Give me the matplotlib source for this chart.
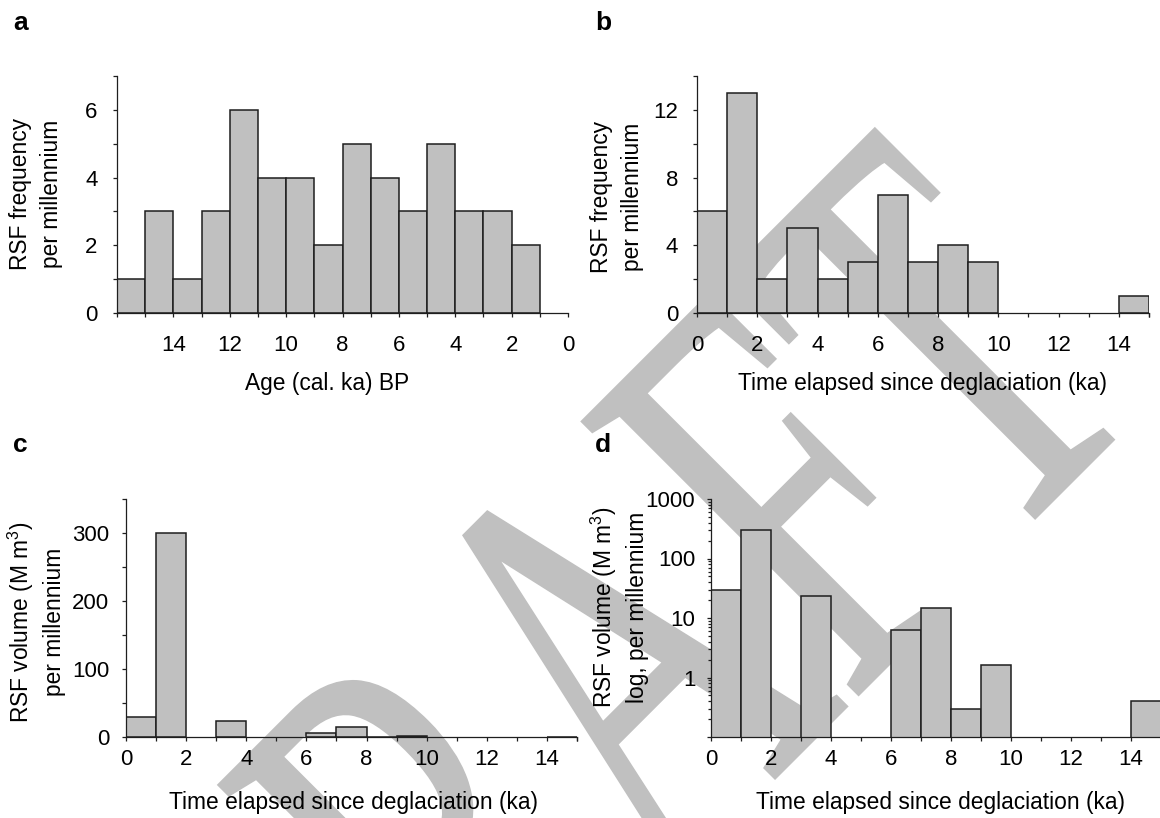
import numpy as np
import matplotlib
matplotlib.use("Agg")
import matplotlib.pyplot as plt
from matplotlib.textpath import TextPath
from matplotlib.font_manager import FontProperties
from matplotlib.patches import PathPatch
from matplotlib.transforms import Affine2D
from matplotlib.ticker import LogLocator, NullFormatter

plt.rcParams["font.family"] = "Liberation Sans"
plt.rcParams["mathtext.fontset"] = "custom"
plt.rcParams["mathtext.rm"] = "Liberation Sans"
plt.rcParams["mathtext.default"] = "rm"

# a: RSFs per 1 ka age bin, oldest first (bin 16-15 ka ... 2-1 ka)
age_bin_old = [16, 15, 14, 13, 12, 11, 10, 9, 8, 7, 6, 5, 4, 3, 2]
age_counts = [1, 3, 1, 3, 6, 4, 4, 2, 5, 4, 3, 5, 3, 3, 2]

# b-d: 1 ka bins of time elapsed since deglaciation (0-1 ... 14-15 ka)
t_bin_start = [0, 1, 2, 3, 4, 5, 6, 7, 8, 9, 10, 11, 12, 13, 14]
t_counts = [6, 13, 2, 5, 2, 3, 7, 3, 4, 3, 0, 0, 0, 0, 1]
t_volume = [30, 300, 0, 23, 0, 0, 6.4, 14.5, 0.3, 1.6, 0, 0, 0, 0, 0.4]

W, H = 1160, 818
fig = plt.figure(figsize=(W / 100, H / 100), dpi=100)

BAR = "#c0c0c0"
INK = "#1e1e1e"

# DRAFT watermark behind everything
tp = TextPath((0, 0), "DRAFT", size=1, prop=FontProperties(family="Liberation Serif"))
bb = tp.get_extents()
wm = (Affine2D().translate(-(bb.x0 + bb.x1) / 2, -(bb.y0 + bb.y1) / 2)
      .scale(370, 595).rotate_deg(45).translate(589, H - 688))
fig.add_artist(PathPatch(tp, transform=wm, facecolor=BAR, edgecolor=BAR,
                         linewidth=1.2, zorder=-5))


def fx(x):
    return x / W


def fy(y):
    return 1 - y / H


def make_axes(l, t, r, b, xpad, ypad):
    ax = fig.add_axes([fx(l), fy(b), fx(r) - fx(l), fy(t) - fy(b)])
    ax.set_facecolor("none")
    for s in ["top", "right"]:
        ax.spines[s].set_visible(False)
    for s in ["left", "bottom"]:
        ax.spines[s].set_linewidth(0.9)
        ax.spines[s].set_color(INK)
    ax.tick_params(which="both", direction="out", color=INK, width=0.9,
                   labelsize=16, labelcolor="black")
    ax.tick_params(which="major", length=3)
    ax.tick_params(which="minor", length=2)
    ax.tick_params(axis="x", pad=xpad)
    ax.tick_params(axis="y", pad=ypad)
    return ax


def bars(ax, starts, vals):
    s = np.array(starts, dtype=float)
    v = np.array(vals, dtype=float)
    keep = v > 0
    ax.bar(s[keep], v[keep], width=1, align="edge", color=BAR,
           edgecolor=INK, linewidth=1.1, zorder=2)


xt = list(range(0, 16))
xl = [str(v) if v % 2 == 0 else "" for v in xt]

# a
ax = make_axes(117, 76, 568, 313, 12.5, 11)
bars(ax, np.array(age_bin_old) - 1, age_counts)
ax.set_xlim(16, 0)
ax.set_ylim(0, 7)
ax.set_xticks(range(0, 17))
ax.set_xticklabels([str(v) if v % 2 == 0 and v < 16 else "" for v in range(0, 17)])
ax.set_yticks(range(0, 8))
ax.set_yticklabels([str(v) if v % 2 == 0 else "" for v in range(0, 8)])

# b
ax = make_axes(697, 76, 1149, 313, 12.5, 10.5)
bars(ax, t_bin_start, t_counts)
ax.set_xlim(0, 15)
ax.set_ylim(0, 14)
ax.set_xticks(xt + [15])
ax.set_xticklabels(xl + [""])
ax.set_yticks(range(0, 15, 2))
ax.set_yticklabels([str(v) if v % 4 == 0 else "" for v in range(0, 15, 2)])

# c
ax = make_axes(126, 499, 577, 737, 5.5, 9)
bars(ax, t_bin_start, t_volume)
ax.set_xlim(0, 15)
ax.set_ylim(0, 350)
ax.set_xticks(xt + [15])
ax.set_xticklabels(xl + [""])
ax.set_yticks(range(0, 351, 50))
ax.set_yticklabels([str(v) if v % 100 == 0 else "" for v in range(0, 351, 50)])

# d
ax = make_axes(711, 499, 1161, 737, 5.5, 8.3)
bars(ax, t_bin_start, t_volume)
ax.set_yscale("log")
ax.set_xlim(0, 15)
ax.set_ylim(0.1, 1000)
ax.set_xticks(xt + [15])
ax.set_xticklabels(xl + [""])
ax.set_yticks([0.1, 1, 10, 100, 1000])
ax.set_yticklabels(["", "1", "10", "100", "1000"])
ax.yaxis.set_minor_locator(LogLocator(base=10, subs=np.arange(2, 10)))
ax.yaxis.set_minor_formatter(NullFormatter())

# panel letters
for ch, x, y in [("a", 13, 30), ("b", 595, 30), ("c", 13, 452), ("d", 595, 452)]:
    fig.text(fx(x), fy(y), ch, fontsize=19, fontweight="bold", va="baseline", ha="left")

# axis titles
lab = dict(fontsize=16.4, ha="center", va="baseline")
fig.text(fx(327), fy(390), "Age (cal. ka) BP", **lab)
fig.text(fx(922), fy(390), "Time elapsed since deglaciation (ka)", **lab)
fig.text(fx(353), fy(809), "Time elapsed since deglaciation (ka)", **lab)
fig.text(fx(940), fy(809), "Time elapsed since deglaciation (ka)", **lab)

ylab = dict(fontsize=16.4, rotation=90, ha="center", va="center",
            multialignment="center", linespacing=1.4)
fig.text(fx(36), fy(194), "RSF frequency\nper millennium", **ylab)
fig.text(fx(617), fy(197), "RSF frequency\nper millennium", **ylab)
fig.text(fx(36), fy(622), "RSF volume (M m$^3$)\nper millennium", **ylab)
fig.text(fx(619), fy(607), "RSF volume (M m$^3$)\nlog, per millennium", **ylab)

fig.savefig("out.png", dpi=100)
